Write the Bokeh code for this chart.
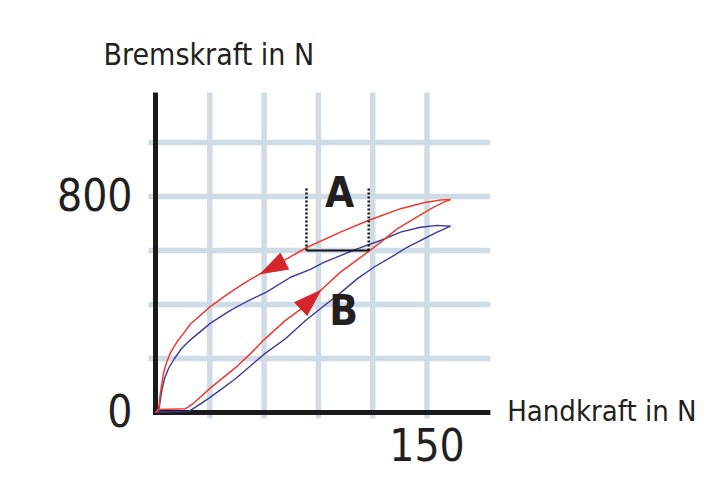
import math
from bokeh.plotting import figure
from bokeh.models import Range1d
from bokeh.core.properties import value
from bokeh.embed import file_html
from bokeh.resources import INLINE

# ---- data ----
red_load_x = [0, 2, 16.6, 21.2, 30.4, 44.2, 52.5, 60.2, 71.8, 80.1, 91.2, 102.2, 117.8, 124.3, 133.5, 142.7, 152, 159.3, 163]
red_load_y = [0, 11, 14, 35, 91, 166, 218, 271, 341, 382, 452, 520, 597, 630, 680, 717, 754, 779, 789]
red_unload_x = [163, 157.5, 148.2, 135.4, 124.3, 117.8, 102.2, 83.8, 74.6, 65.4, 58, 51.5, 41.4, 30.4, 19.3, 15.5, 11.6, 8.3, 6.1, 4.4, 3.3, 2.4, 1.8, 0]
red_unload_y = [789, 787, 777, 755, 728, 712, 668, 612, 577, 540, 514, 489, 446, 393, 328, 293, 259, 222, 185, 144, 100, 56, 15, 0]
blue_unload_x = [163, 155.6, 146.4, 135.4, 124.3, 111.4, 93, 85.6, 74.6, 61.3, 50.7, 41.4, 30.4, 19.3, 14.4, 10.5, 7.2, 5, 3.7, 2.8, 1.8, 0]
blue_unload_y = [690, 693, 686, 668, 637, 606, 556, 530, 501, 446, 412, 378, 331, 269, 237, 200, 163, 126, 89, 52, 7, 0]
blue_load_x = [0, 2, 18.4, 22.1, 30.4, 44.2, 60.2, 71.8, 82.9, 92.1, 102.2, 111.4, 120.6, 131.6, 139, 148.2, 155.6, 163]
blue_load_y = [0, 2, 4, 20, 57, 125, 217, 273, 341, 390, 443, 495, 538, 581, 612, 643, 668, 690]

x_grid = [30, 60, 90, 120, 150]
y_grid = [200, 400, 600, 800, 1000]
y_tick_labels = ["0", "800"]
y_tick_values = [0, 800]
x_tick_labels = ["150"]
x_tick_values = [150]

# hysteresis width "A" measured at 600 N
a_level = 600
a_left = 83.4
a_right = 117.8
a_top = 834

x_title = "Handkraft in N"
y_title = "Bremskraft in N"

RED = "#ee3a2e"
BLUE = "#3b3a9c"
ARROW_RED = "#d7262b"
GRID = "#cfdbe5"
INK = "#231f20"
FONT = "'DejaVu Sans Condensed', Roboto, sans-serif"

W, H = 712, 484
KX = 54.3 / 30.0   # px per N (x)
KY = 54.0 / 200.0  # px per N (y)
x0 = -155 / KX
y0 = -72 / KY

p = figure(width=W, height=H, output_backend="svg", toolbar_location=None,
           x_range=Range1d(x0, x0 + W / KX), y_range=Range1d(y0, y0 + H / KY),
           x_axis_location=None, y_axis_location=None,
           min_border=0, min_border_left=0, min_border_right=0,
           min_border_top=0, min_border_bottom=0)
p.outline_line_color = None
p.grid.visible = False
p.background_fill_color = "white"

# grid
top = 1185
right = 185
p.segment(x0=x_grid, y0=[-22] * len(x_grid), x1=x_grid, y1=[top] * len(x_grid),
          line_color=GRID, line_width=5.5, line_cap="butt")
p.segment(x0=[-3.9] * len(y_grid), y0=y_grid, x1=[right] * len(y_grid), y1=y_grid,
          line_color=GRID, line_width=5.5, line_cap="butt")

# axes
p.segment(x0=[0], y0=[-9], x1=[0], y1=[top], line_color="#1a1a1a", line_width=5, line_cap="butt")
p.segment(x0=[-1.4], y0=[0], x1=[right], y1=[0], line_color="#1a1a1a", line_width=5, line_cap="butt")

# curves
p.line(blue_load_x, blue_load_y, line_color=BLUE, line_width=1.4)
p.line(blue_unload_x, blue_unload_y, line_color=BLUE, line_width=1.4)
p.line(red_load_x, red_load_y, line_color=RED, line_width=1.5)
p.line(red_unload_x, red_unload_y, line_color=RED, line_width=1.5)


# direction arrows on the red loop: head whose tip sits on a curve point,
# oriented along the curve (computed in screen pixels)
def arrow_head(xs, ys, i_from, i_tip, length=27, width=18):
    tx, ty = xs[i_tip] * KX, ys[i_tip] * KY
    fx, fy = xs[i_from] * KX, ys[i_from] * KY
    dx, dy = tx - fx, ty - fy
    n = math.hypot(dx, dy)
    ux, uy = dx / n, dy / n
    bx, by = tx - length * ux, ty - length * uy
    px_, py_ = -uy, ux
    pts = [(tx, ty), (bx + px_ * width / 2, by + py_ * width / 2), (bx - px_ * width / 2, by - py_ * width / 2)]
    return [q[0] / KX for q in pts], [q[1] / KY for q in pts]


ax1, ay1 = arrow_head(red_load_x, red_load_y, 9, 10)
ax2, ay2 = arrow_head(red_unload_x, red_unload_y, 9, 10)
p.patches([ax1, ax2], [ay1, ay2], fill_color=ARROW_RED, line_color=ARROW_RED, line_width=1)

# marker A
p.segment(x0=[a_left, a_right], y0=[a_level, a_level], x1=[a_left, a_right], y1=[a_top, a_top],
          line_color="#111111", line_width=2.5, line_dash="2 2", line_cap="butt")
p.segment(x0=[a_left], y0=[a_level], x1=[a_right], y1=[a_level], line_color="#111111", line_width=1.8)

p.text(x=[101.7, 104], y=[815, 378], text=["A", "B"], text_font=value(FONT),
       text_font_style="bold", text_font_size=value("42px"), text_align="center",
       text_baseline="alphabetic", text_color=INK)

# tick labels
p.text(x=[0] * len(y_tick_values), y=y_tick_values, text=y_tick_labels, text_font=value(FONT),
       text_font_size=value("44px"), text_align="right", text_baseline="alphabetic",
       x_offset=-23, y_offset=-2, text_color=INK)
p.text(x=x_tick_values, y=[0] * len(x_tick_values), text=x_tick_labels, text_font=value(FONT),
       text_font_size=value("44px"), text_align="center", text_baseline="alphabetic",
       y_offset=32, text_color=INK)

# axis titles
p.text(x=[-28.7], y=[1326], text=[y_title], text_font=value(FONT), text_font_size=value("30px"),
       text_align="left", text_baseline="alphabetic", text_color=INK)
p.text(x=[194.3], y=[5], text=[x_title], text_font=value(FONT), text_font_size=value("29px"),
       text_align="left", text_baseline="alphabetic", text_color=INK)

open("out.html", "w").write(file_html(p, INLINE))
